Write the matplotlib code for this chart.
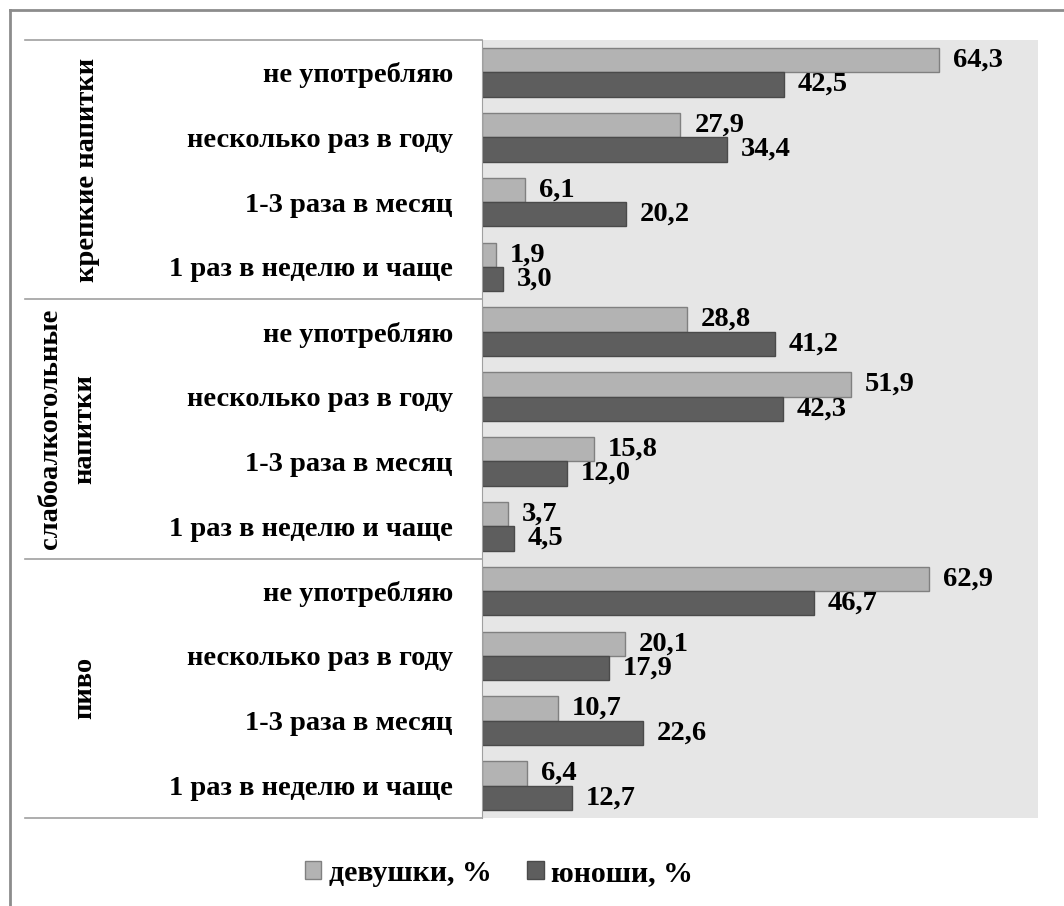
import matplotlib.pyplot as plt
import matplotlib.patches as mpatches
from matplotlib.lines import Line2D
import numpy as np

groups = ['крепкие напитки', 'слабоалкогольные\nнапитки', 'пиво']
freq = ['не употребляю', 'несколько раз в году', '1-3 раза в месяц', '1 раз в неделю и чаще']
girls = [64.3, 27.9, 6.1, 1.9, 28.8, 51.9, 15.8, 3.7, 62.9, 20.1, 10.7, 6.4]
boys = [42.5, 34.4, 20.2, 3.0, 41.2, 42.3, 12.0, 4.5, 46.7, 17.9, 22.6, 12.7]
series_names = ['девушки, %', 'юноши, %']

light = '#b3b3b3'
dark = '#5e5e5e'
font = 'Liberation Serif'
fs = 20.5

fig = plt.figure(figsize=[10.64, 9.06], dpi=100)
ax = fig.add_axes([0.453, 0.0971, 0.5226, 0.8587])
ax.set_facecolor('#e6e6e6')

labels = freq * len(groups)
y = np.arange(len(labels))
h = 0.375
b1 = ax.barh(y - h/2, girls, height=h, color=light, edgecolor='#808080', linewidth=1)
b2 = ax.barh(y + h/2, boys, height=h, color=dark, edgecolor='#4a4a4a', linewidth=1)

for bars, vals in [(b1, girls), (b2, boys)]:
    for r, v in zip(bars, vals):
        ax.annotate(('%.1f' % v).replace('.', ','),
                    (r.get_width(), r.get_y() + r.get_height()/2),
                    xytext=(10, 0), textcoords='offset points',
                    ha='left', va='center', fontsize=fs, fontweight='bold',
                    family=font, annotation_clip=False)

ax.set_xlim(0, 78.2)
ax.set_ylim(len(labels) - 0.5, -0.5)
ax.set_xticks([])
ax.set_yticks(y)
ax.set_yticklabels(labels, fontsize=fs, fontweight='bold', family=font)
ax.tick_params(axis='y', length=0, pad=21)
for s in ['top', 'right', 'bottom']:
    ax.spines[s].set_visible(False)
ax.spines['left'].set_color('#a0a0a0')

# table lines on the left
tr = ax.get_yaxis_transform()
for k in range(len(groups) + 1):
    yb = k * len(freq) - 0.5
    ax.plot([-0.822, 0], [yb, yb], color='#a0a0a0', lw=1.2, transform=tr, clip_on=False)
gx = [-0.710, -0.745, -0.714]
for k, g in enumerate(groups):
    yc = k * len(freq) + (len(freq) - 1) / 2
    ax.text(gx[k], yc, g, transform=tr, rotation=90, ha='center', va='center',
            fontsize=fs, fontweight='bold', family=font, linespacing=1.45)

# outer frame
fig.add_artist(Line2D([10/1064, 10/1064], [0, 1 - 10/906], color='#8c8c8c', lw=2))
fig.add_artist(Line2D([10/1064, 1], [1 - 10/906, 1 - 10/906], color='#8c8c8c', lw=2))

handles = [mpatches.Patch(facecolor=light, edgecolor='#808080'),
           mpatches.Patch(facecolor=dark, edgecolor='#4a4a4a')]
fig.legend(handles, series_names, loc='center', bbox_to_anchor=(0.469, 0.036), ncol=2,
           frameon=False, handlelength=0.55, handleheight=0.55, handletextpad=0.25,
           columnspacing=1.2, prop={'family': font, 'weight': 'bold', 'size': 21.5})

fig.savefig('out.png', dpi=100)
